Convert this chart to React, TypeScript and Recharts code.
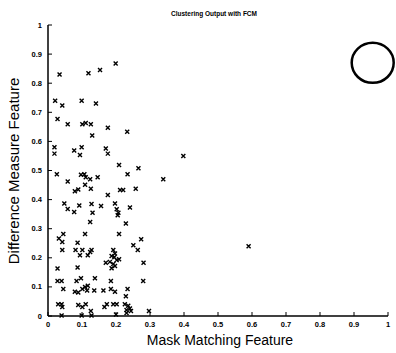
import React from "react";
import { ScatterChart, Scatter, XAxis, YAxis } from "recharts";

// feature values (mask matching, difference measure)
const maskMatching = [
  0.199, 0.034, 0.119, 0.153, 0.021, 0.042, 0.099, 0.141, 0.028, 0.058,
  0.101, 0.111, 0.126, 0.176, 0.233, 0.130, 0.019, 0.019, 0.077, 0.099,
  0.094, 0.170, 0.176, 0.209, 0.266, 0.026, 0.097, 0.107, 0.234, 0.111,
  0.124, 0.146, 0.339, 0.398, 0.058, 0.109, 0.079, 0.089, 0.126, 0.176,
  0.212, 0.221, 0.258, 0.048, 0.058, 0.077, 0.092, 0.128, 0.156, 0.131,
  0.197, 0.202, 0.207, 0.205, 0.241, 0.124, 0.229, 0.109, 0.209, 0.032,
  0.042, 0.045, 0.087, 0.274, 0.251, 0.264, 0.042, 0.081, 0.101, 0.128,
  0.124, 0.094, 0.117, 0.192, 0.197, 0.187, 0.195, 0.202, 0.209, 0.170,
  0.182, 0.192, 0.281, 0.028, 0.087, 0.187, 0.197, 0.590, 0.028, 0.040,
  0.084, 0.097, 0.138, 0.185, 0.280, 0.045, 0.079, 0.089, 0.101, 0.109,
  0.117, 0.115, 0.136, 0.163, 0.185, 0.197, 0.234, 0.229, 0.030, 0.040,
  0.042, 0.089, 0.101, 0.111, 0.126, 0.166, 0.173, 0.192, 0.202, 0.226,
  0.236, 0.241, 0.244, 0.231, 0.297, 0.040, 0.099, 0.128, 0.200, 0.231,
];
const differenceMeasure = [
  0.868, 0.830, 0.834, 0.845, 0.740, 0.723, 0.740, 0.730, 0.677, 0.659,
  0.659, 0.663, 0.659, 0.647, 0.633, 0.620, 0.580, 0.558, 0.569, 0.580,
  0.553, 0.576, 0.558, 0.519, 0.508, 0.487, 0.485, 0.487, 0.487, 0.477,
  0.470, 0.477, 0.470, 0.550, 0.462, 0.451, 0.429, 0.435, 0.437, 0.416,
  0.433, 0.433, 0.437, 0.387, 0.368, 0.357, 0.380, 0.385, 0.378, 0.355,
  0.387, 0.367, 0.355, 0.346, 0.373, 0.323, 0.318, 0.282, 0.282, 0.266,
  0.254, 0.282, 0.252, 0.264, 0.243, 0.227, 0.227, 0.227, 0.227, 0.227,
  0.220, 0.209, 0.209, 0.227, 0.215, 0.206, 0.202, 0.192, 0.195, 0.183,
  0.186, 0.179, 0.183, 0.163, 0.167, 0.164, 0.172, 0.240, 0.120, 0.120,
  0.120, 0.130, 0.130, 0.120, 0.120, 0.093, 0.083, 0.081, 0.093, 0.100,
  0.104, 0.088, 0.088, 0.088, 0.093, 0.083, 0.093, 0.068, 0.040, 0.040,
  0.031, 0.038, 0.031, 0.040, 0.017, 0.031, 0.040, 0.040, 0.040, 0.040,
  0.035, 0.026, 0.017, 0.021, 0.017, 0.002, 0.002, 0.002, 0.005, 0.010,
];
// marked cluster centre (big circle, top right)
const centreX = [0.955];
const centreY = [0.87];

const ticks = [0, 0.1, 0.2, 0.3, 0.4, 0.5, 0.6, 0.7, 0.8, 0.9, 1];

const points = maskMatching.map((x, i) => ({ x, y: differenceMeasure[i] }));
const centres = centreX.map((x, i) => ({ x, y: centreY[i] }));

const tickFont = { fontFamily: "Liberation Sans, Arial, sans-serif", fontSize: 7.5, fontWeight: 700 };

const Cross = (props: any) => {
  const { cx, cy } = props;
  return (
    <path
      d={`M${cx - 2},${cy - 2}L${cx + 2},${cy + 2}M${cx + 2},${cy - 2}L${cx - 2},${cy + 2}`}
      stroke="#000"
      strokeWidth={1.4}
      fill="none"
    />
  );
};

const BigCircle = (props: any) => {
  const { cx, cy } = props;
  return <ellipse cx={cx} cy={cy} rx={21} ry={20} fill="none" stroke="#000" strokeWidth={2.5} />;
};

const YTick = (props: any) => {
  const { x, y, payload } = props;
  return (
    <g>
      <line x1={x} x2={x + 4} y1={y} y2={y} stroke="#000" />
      <text x={x - 6} y={y + 2.5} textAnchor="end" fill="#000" style={tickFont}>
        {payload.value}
      </text>
    </g>
  );
};

const XTick = (props: any) => {
  const { x, y, payload } = props;
  return (
    <g>
      <line x1={x} x2={x} y1={y} y2={y - 4} stroke="#000" />
      <text x={x} y={y + 11} textAnchor="middle" fill="#000" style={tickFont}>
        {payload.value}
      </text>
    </g>
  );
};

export default function App() {
  return (
    <div style={{ position: "absolute", left: 0, top: 0, background: "#fff" }}>
      <ScatterChart width={396} height={353} margin={{ top: 25, right: 8, bottom: 7, left: 8 }}>
        <XAxis
          type="number"
          dataKey="x"
          domain={[0, 1]}
          ticks={ticks}
          tick={<XTick />}
          tickLine={false}
          tickSize={0}
          tickMargin={0}
          height={30}
          axisLine={{ stroke: "#000", strokeWidth: 1.5 }}
        />
        <YAxis
          type="number"
          dataKey="y"
          domain={[0, 1]}
          ticks={ticks}
          tick={<YTick />}
          tickLine={false}
          tickSize={0}
          tickMargin={0}
          width={40}
          axisLine={{ stroke: "#000", strokeWidth: 1.5 }}
        />
        <Scatter data={points} shape={<Cross />} isAnimationActive={false} />
        <Scatter data={centres} shape={<BigCircle />} isAnimationActive={false} />
        <text x={214} y={16} textAnchor="middle" fill="#000" style={{ ...tickFont, fontSize: 6.5 }}>
          Clustering Output with FCM
        </text>
        <text
          x={19}
          y={171}
          textAnchor="middle"
          fill="#000"
          transform="rotate(-90 19 171)"
          style={{ fontFamily: "Liberation Sans, Arial, sans-serif", fontSize: 15 }}
        >
          Difference Measure Feature
        </text>
        <text
          x={220}
          y={345}
          textAnchor="middle"
          fill="#000"
          style={{ fontFamily: "Liberation Sans, Arial, sans-serif", fontSize: 14 }}
        >
          Mask Matching Feature
        </text>
      </ScatterChart>
    </div>
  );
}
